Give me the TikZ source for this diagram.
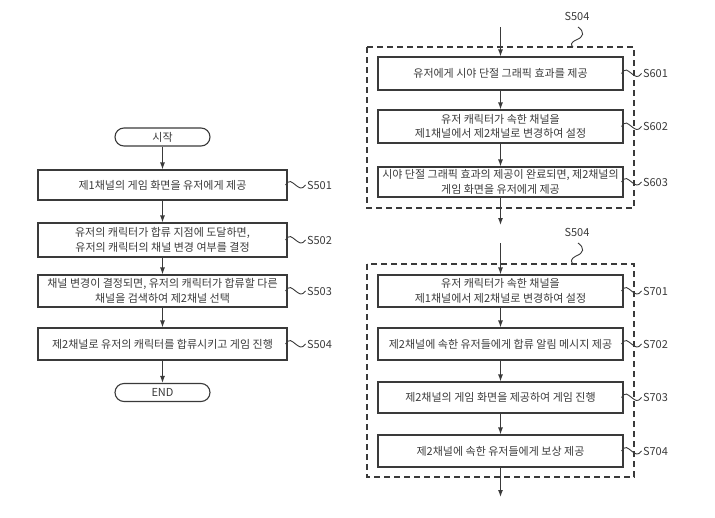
\documentclass[tikz,border=0pt]{standalone}
\usepackage{fontspec}
\setmainfont{Noto Sans CJK KR}
\usetikzlibrary{arrows.meta,calc}
\definecolor{ink}{HTML}{3A3A3A}
\tikzset{
  box/.style={draw=ink, line width=1.1pt, minimum height=32pt, align=center, inner sep=1pt,
    font=\fontsize{11}{14.5}\selectfont, text=ink},
  lbox/.style={box, minimum width=249pt},
  rbox/.style={box, minimum width=245pt},
  term/.style={draw=ink, line width=1.1pt, rounded corners=9pt, minimum width=95pt, minimum height=18pt,
    font=\fontsize{11}{12}\selectfont, text=ink, inner sep=0pt},
  flow/.style={draw=ink, line width=1.1pt, -{Latex[length=7pt,width=5pt]}},
  lead/.style={draw=ink, line width=0.9pt},
  lab/.style={font=\fontsize{11}{12}\selectfont, text=ink, anchor=west, inner sep=1pt},
  frame/.style={draw=ink, line width=1.1pt, dash pattern=on 6pt off 4pt},
}
\newcommand\wig[2]{\draw[lead] (#1.east) ++(-2,0) .. controls +(4,-6) and +(-4,-3) .. ++(10,0) .. controls +(4,3) and +(-4,5) .. ++(10,0) node[lab]{#2};}
\begin{document}
\begin{tikzpicture}[x=1pt,y=-1pt]
\useasboundingbox (0,0) rectangle (715,517);
% left column
\node[term] (start) at (162.5,137) {시작};
\node[lbox, minimum height=30pt] (s501) at (162.5,185) {제1채널의 게임 화면을 유저에게 제공};
\node[lbox, minimum height=34pt] (s502) at (162.5,240) {유저의 캐릭터가 합류 지점에 도달하면,\\유저의 캐릭터의 채널 변경 여부를 결정};
\node[lbox] (s503) at (162.5,291) {채널 변경이 결정되면, 유저의 캐릭터가 합류할 다른\\채널을 검색하여 제2채널 선택};
\node[lbox] (s504) at (162.5,344) {제2채널로 유저의 캐릭터를 합류시키고 게임 진행};
\node[term] (end) at (162.5,392.5) {END};
\draw[flow] (start) -- (s501);
\draw[flow] (s501) -- (s502);
\draw[flow] (s502) -- (s503);
\draw[flow] (s503) -- (s504);
\draw[flow] (s504) -- (end);
\wig{s501}{S501}
\wig{s502}{S502}
\wig{s503}{S503}
\wig{s504}{S504}
% right column, first frame
\draw[frame] (367,47) rectangle (634,208);
\node[lab, anchor=center] (t1) at (577,16) {S504};
\draw[lead] (578,27) .. controls (585,32) and (584,37) .. (576,40) .. controls (570,43) and (571,45) .. (573,47);
\coordinate (in1) at (500.5,27);
\coordinate (out1) at (500.5,225);
\node[rbox, minimum height=33pt] (s601) at (500.5,73.5) {유저에게 시야 단절 그래픽 효과를 제공};
\node[rbox, minimum height=33pt] (s602) at (500.5,126.5) {유저 캐릭터가 속한 채널을\\제1채널에서 제2채널로 변경하여 설정};
\node[rbox, minimum height=30pt] (s603) at (500.5,182) {시야 단절 그래픽 효과의 제공이 완료되면, 제2채널의\\게임 화면을 유저에게 제공};
\draw[flow] (in1) -- (s601);
\draw[flow] (s601) -- (s602);
\draw[flow] (s602) -- (s603);
\draw[flow] (s603) -- (out1);
\wig{s601}{S601}
\wig{s602}{S602}
\wig{s603}{S603}
% right column, second frame
\draw[frame] (367,264) rectangle (634,477);
\node[lab, anchor=center] (t2) at (577,232) {S504};
\draw[lead] (578,243) .. controls (585,248) and (584,253) .. (576,256) .. controls (570,259) and (571,262) .. (573,264);
\coordinate (in2) at (500.5,243);
\coordinate (out2) at (500.5,497);
\node[rbox] (s701) at (500.5,291) {유저 캐릭터가 속한 채널을\\제1채널에서 제2채널로 변경하여 설정};
\node[rbox] (s702) at (500.5,344) {제2채널에 속한 유저들에게 합류 알림 메시지 제공};
\node[rbox, minimum height=31pt] (s703) at (500.5,397.5) {제2채널의 게임 화면을 제공하여 게임 진행};
\node[rbox] (s704) at (500.5,451) {제2채널에 속한 유저들에게 보상 제공};
\draw[flow] (in2) -- (s701);
\draw[flow] (s701) -- (s702);
\draw[flow] (s702) -- (s703);
\draw[flow] (s703) -- (s704);
\draw[flow] (s704) -- (out2);
\wig{s701}{S701}
\wig{s702}{S702}
\wig{s703}{S703}
\wig{s704}{S704}
\end{tikzpicture}
\end{document}
